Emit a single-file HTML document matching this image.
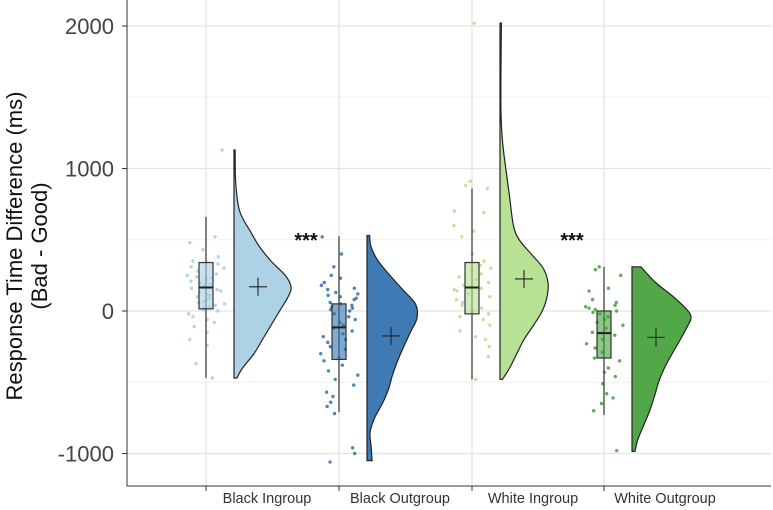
<!DOCTYPE html>
<html><head><meta charset="utf-8"><style>
html,body{margin:0;padding:0;background:#fff;}
svg{display:block;font-family:"Liberation Sans",sans-serif;}
</style></head><body>
<svg id="chart" width="773" height="510"></svg>
<script>
const categories=["Black Ingroup","Black Outgroup","White Ingroup","White Outgroup"];
const colors=["#a6cee3","#2f6fae","#b2df8a","#43a03a"];
const boxLow=[-470,-710,-480,-730];
const boxQ1=[15,-340,-20,-330];
const boxMed=[165,-115,165,-155];
const boxQ3=[340,50,340,0];
const boxHigh=[660,525,860,310];
const means=[170,-175,225,-185];
const densLevels=[
[-470,-400,-300,-200,-100,0,100,170,250,350,450,550,700,900,1130],
[-1050,-950,-850,-750,-650,-550,-450,-350,-250,-150,-50,50,150,250,350,450,530],
[-480,-400,-300,-200,-100,0,100,200,300,400,500,600,800,1000,1200,1400,1700,2020],
[-985,-900,-800,-700,-600,-500,-400,-300,-200,-100,-50,0,100,200,310]];
const densWidths=[
[0.05,0.15,0.35,0.5,0.65,0.8,0.95,1,0.9,0.65,0.45,0.3,0.1,0.03,0.02],
[0.1,0.08,0.06,0.15,0.3,0.42,0.5,0.6,0.72,0.85,0.98,0.95,0.7,0.45,0.22,0.08,0.05],
[0.05,0.2,0.35,0.5,0.7,0.88,0.98,1,0.9,0.65,0.4,0.28,0.2,0.12,0.05,0.02,0.02,0.03],
[0.05,0.1,0.2,0.3,0.38,0.45,0.55,0.68,0.82,0.95,1,0.95,0.7,0.4,0.15]];
const violinMax=[57,51,48,59];
const points=[
[1130,520,480,430,380,350,330,310,300,280,260,250,240,230,220,210,200,190,180,170,160,150,140,130,120,110,100,90,80,70,60,50,40,30,20,10,0,-20,-40,-60,-80,-110,-150,-200,-240,-370,-470],
[520,400,310,250,230,200,180,160,150,130,120,110,100,90,80,60,50,40,30,20,10,0,-20,-40,-60,-80,-100,-120,-140,-160,-180,-200,-220,-250,-270,-300,-330,-350,-380,-420,-450,-480,-520,-570,-600,-640,-670,-720,-960,-1000,-1060],
[2020,910,880,860,700,690,600,560,520,400,350,320,300,280,260,240,220,200,180,160,150,140,120,100,80,60,40,20,0,-20,-40,-60,-100,-140,-180,-200,-250,-320,-480],
[310,290,250,160,140,80,60,40,30,20,10,0,-10,-20,-40,-60,-80,-100,-120,-150,-170,-200,-230,-260,-290,-330,-350,-400,-430,-460,-510,-580,-610,-650,-700,-980]];
const yTicks=[2000,1000,0,-1000];
const yMinor=[1500,500,-500];
const sigStars=["***","***"];

const NS="http://www.w3.org/2000/svg";
const svg=document.getElementById("chart");
const L=127,R=771,T=0,B=486;
const centers=[206,339,472,604];
function yS(v){return 311-v*0.1425;}
function xS(i){return centers[i];}
function mk(tag,attrs,parent){const e=document.createElementNS(NS,tag);for(const k in attrs)e.setAttribute(k,attrs[k]);(parent||svg).appendChild(e);return e;}

// panel grid
yMinor.forEach(v=>{const l=mk("line",{x1:L,x2:R,y1:yS(v),y2:yS(v),stroke:"#f0f0f0","stroke-width":1});

});
yTicks.forEach(v=>{const l=mk("line",{x1:L,x2:R,y1:yS(v),y2:yS(v),stroke:"#e3e3e3","stroke-width":1.3});

});
categories.forEach((c,i)=>{const l=mk("line",{x1:xS(i),x2:xS(i),y1:T,y2:B,stroke:"#e3e3e3","stroke-width":1.3});

});

function jit(i,k){const s=Math.sin(i*12.9898+k*78.233)*43758.5453;return s-Math.floor(s);}

categories.forEach((c,i)=>{
  const cx=xS(i);
  const g=mk("g",{});
  
  
  // violin
  const base=cx+28, lv=densLevels[i], w=densWidths[i];
  let d="M"+base+","+yS(lv[0]);
  const pts=lv.map((v,k)=>[base+w[k]*violinMax[i],yS(v)]);
  d+=" L"+pts[0][0]+","+pts[0][1];
  for(let k=0;k<pts.length-1;k++){
    const p0=pts[Math.max(0,k-1)],p1=pts[k],p2=pts[k+1],p3=pts[Math.min(pts.length-1,k+2)];
    const c1=[p1[0]+(p2[0]-p0[0])/6,p1[1]+(p2[1]-p0[1])/6],c2=[p2[0]-(p3[0]-p1[0])/6,p2[1]-(p3[1]-p1[1])/6];
    d+=` C${c1[0]},${c1[1]} ${c2[0]},${c2[1]} ${p2[0]},${p2[1]}`;
  }
  d+=" L"+base+","+yS(lv[lv.length-1])+" Z";
  const vp=mk("path",{d:d,fill:colors[i],"fill-opacity":0.92,stroke:"#222","stroke-width":1.2},g);
  
  
  // mean cross
  const my=yS(means[i]), mx=cx+52;
  const m1=mk("path",{d:`M${mx-9},${my}H${mx+9}M${mx},${my-9}V${my+9}`,stroke:"#222","stroke-width":1.1},g);
  
  
  // points
  points[i].forEach((v,k)=>{
    const p=mk("circle",{cx:cx-19+jit(i+1,k)*38,cy:yS(v),r:1.7,fill:colors[i],"fill-opacity":0.85},g);
    
    
  });
  // whisker
  const wh=mk("line",{x1:cx,x2:cx,y1:yS(boxLow[i]),y2:yS(boxHigh[i]),stroke:"#444","stroke-width":1.3},g);
  
  
  const bx=mk("rect",{x:cx-7,y:yS(boxQ3[i]),width:14,height:yS(boxQ1[i])-yS(boxQ3[i]),fill:colors[i],"fill-opacity":0.6,stroke:"#333","stroke-width":1.2},g);
  
  
  const md=mk("line",{x1:cx-7,x2:cx+7,y1:yS(boxMed[i]),y2:yS(boxMed[i]),stroke:"#222","stroke-width":2},g);
  
  
  // x tick & label
  const tk=mk("line",{x1:cx,x2:cx,y1:B,y2:B+5,stroke:"#333","stroke-width":1});
  
  
  const t=mk("text",{x:cx+61,y:503,"text-anchor":"middle","font-size":14.5,fill:"#333"});
  t.textContent=c;
  
  
});
// significance stars
[[306,238],[572,238]].forEach((p,k)=>{const t=mk("text",{x:p[0],y:p[1]+9,"text-anchor":"middle","font-size":20,"font-weight":"bold",fill:"#111"});
t.textContent=sigStars[k];

});
// axes
const ax=mk("path",{d:`M${L},${T}V${B}H${R}`,fill:"none",stroke:"#333","stroke-width":1});


yTicks.forEach(v=>{
  const tk=mk("line",{x1:L-5,x2:L,y1:yS(v),y2:yS(v),stroke:"#333","stroke-width":1});
  
  
  const t=mk("text",{x:114,y:yS(v)+8,"text-anchor":"end","font-size":22,fill:"#444"});
  t.textContent=v;
  
  
});
const yt=mk("text",{transform:"translate(22,246) rotate(-90)","text-anchor":"middle","font-size":22,fill:"#111"});


const s1=mk("tspan",{x:0,dy:0},yt);s1.textContent="Response Time Difference (ms)";
const s2=mk("tspan",{x:0,dy:25},yt);s2.textContent="(Bad - Good)";
</script>
</body></html>
